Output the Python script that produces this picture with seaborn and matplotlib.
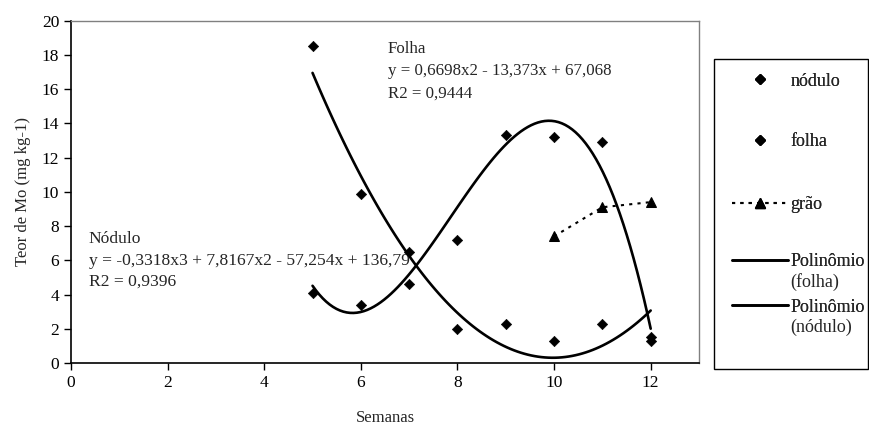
import matplotlib
matplotlib.use("Agg")
import matplotlib.pyplot as plt
import seaborn as sns
import pandas as pd
from matplotlib.lines import Line2D
from matplotlib.patches import Rectangle

semanas = [5, 6, 7, 8, 9, 10, 11, 12]
nodulo = [4.1, 3.4, 6.5, 7.2, 13.3, 13.2, 12.9, 1.3]
folha = [18.5, 9.9, 4.6, 2.0, 2.3, 1.3, 2.3, 1.5]
semanas_grao = [10, 11, 12]
grao = [7.4, 9.1, 9.4]

x_ticks = [0, 2, 4, 6, 8, 10, 12]
y_ticks = [0, 2, 4, 6, 8, 10, 12, 14, 16, 18, 20]

txt_folha = "Folha\ny = 0,6698x2 - 13,373x + 67,068\nR2 = 0,9444"
txt_nodulo = "Nódulo\ny = -0,3318x3 + 7,8167x2 - 57,254x + 136,79\nR2 = 0,9396"
legend_first = ["nódulo", "folha", "grão", "Polinômio", "Polinômio"]
legend_second = ["", "", "", "(folha)", "(nódulo)"]

sns.set_style("ticks")
plt.rcParams["font.family"] = ["Liberation Serif", "DejaVu Serif"]
plt.rcParams["font.size"] = 12.5

df = pd.DataFrame({"semana": semanas, "nodulo": nodulo, "folha": folha})
dg = pd.DataFrame({"semana": semanas_grao, "grao": grao})

fig = plt.figure(figsize=(8.7, 4.29), dpi=100)
ax = fig.add_axes([71 / 870, 1 - 363 / 429, (699 - 71) / 870, (363 - 20.7) / 429])

line_kws = dict(color="black", lw=1.9)
sns.regplot(data=df, x="semana", y="folha", order=2, ci=None, scatter=False,
            truncate=True, line_kws=line_kws, ax=ax)
sns.regplot(data=df, x="semana", y="nodulo", order=3, ci=None, scatter=False,
            truncate=True, line_kws=line_kws, ax=ax)
sns.scatterplot(data=df, x="semana", y="nodulo", marker="D", s=28, color="black",
                edgecolor="black", ax=ax, zorder=5)
sns.scatterplot(data=df, x="semana", y="folha", marker="D", s=28, color="black",
                edgecolor="black", ax=ax, zorder=5)
dotted = (0, (1.5, 2.5))
sns.lineplot(data=dg, x="semana", y="grao", color="black", lw=1.5, linestyle=dotted,
             marker="^", markersize=7, markeredgecolor="black", ax=ax, zorder=6)

ax.set_xlim(0, 13)
ax.set_ylim(0, 20)
ax.set_xticks(x_ticks)
ax.set_yticks(y_ticks)
ax.tick_params(direction="out", length=5, width=1, colors="black", labelsize=12.5)
ax.set_xlabel("Semanas", fontsize=12, labelpad=14)
ax.set_ylabel("Teor de Mo (mg kg-1)", fontsize=12, labelpad=8)
for s in ["left", "bottom"]:
    ax.spines[s].set_color("black")
    ax.spines[s].set_linewidth(1.2)
for s in ["top", "right"]:
    ax.spines[s].set_color("#808080")
    ax.spines[s].set_linewidth(1.0)

ax.text(6.56, 18.8, txt_folha, ha="left", va="top", fontsize=12.2, linespacing=1.5)
ax.text(0.37, 7.7, txt_nodulo, ha="left", va="top", fontsize=12.6, linespacing=1.45)

handles = [
    Line2D([], [], marker="D", color="black", linestyle="none", markersize=5),
    Line2D([], [], marker="D", color="black", linestyle="none", markersize=5),
    Line2D([], [], marker="^", color="black", linestyle=dotted, lw=1.5, markersize=7),
    Line2D([], [], color="black", lw=1.9),
    Line2D([], [], color="black", lw=1.9),
]
fig.patches.append(Rectangle((714 / 870, 1 - 369 / 429), 154 / 870, 310 / 429,
                             transform=fig.transFigure, fill=False, edgecolor="black", lw=1.0))
entry_y = [81, 142, 205, 262, 307]
for h, lab1, lab2, yy in zip(handles, legend_first, legend_second, entry_y):
    leg = fig.legend([h], [lab1], loc="center left", bbox_to_anchor=(732 / 870, 1 - yy / 429),
                     frameon=False, fontsize=13, handlelength=3.1, handletextpad=0.15,
                     borderpad=0, borderaxespad=0)
    fig.add_artist(leg)
    if lab2:
        fig.text(790 / 870, 1 - (yy + 20) / 429, lab2, ha="left", va="center", fontsize=13)

fig.savefig("out.png", dpi=100)
